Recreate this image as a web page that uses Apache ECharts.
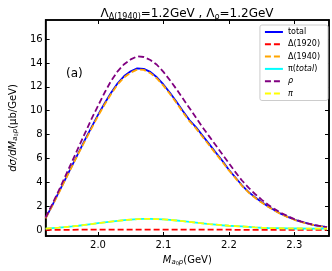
<!DOCTYPE html>
<html><head><meta charset="utf-8">
<script src="https://cdn.jsdelivr.net/npm/echarts@6/dist/echarts.min.js"></script>
<style>html,body{margin:0;padding:0;background:#fff}#c{width:332px;height:271px}</style>
</head><body><div id="c"></div>
<script>
const mass = [1.92,1.93,1.94,1.95,1.96,1.97,1.98,1.99,2.00,2.01,2.02,2.03,2.04,2.05,2.06,2.07,2.08,2.09,2.10,2.11,2.12,2.13,2.14,2.15,2.16,2.17,2.18,2.19,2.20,2.21,2.22,2.23,2.24,2.25,2.26,2.27,2.28,2.29,2.30,2.31,2.32,2.33,2.34,2.35];
const total = [1.0,2.05,3.15,4.25,5.35,6.45,7.55,8.6,9.65,10.6,11.5,12.3,12.9,13.3,13.55,13.5,13.25,12.8,12.2,11.5,10.75,9.95,9.2,8.6,7.9,7.2,6.5,5.8,5.05,4.4,3.75,3.2,2.75,2.35,1.98,1.65,1.35,1.1,0.88,0.7,0.55,0.42,0.32,0.24];
const delta1920 = [0.01,0.01,0.02,0.02,0.02,0.03,0.03,0.03,0.03,0.04,0.04,0.04,0.04,0.04,0.04,0.04,0.04,0.04,0.04,0.04,0.04,0.04,0.03,0.03,0.03,0.03,0.03,0.03,0.03,0.02,0.02,0.02,0.02,0.02,0.02,0.02,0.01,0.01,0.01,0.01,0.01,0.01,0.01,0.01];
const delta1940 = [0.98,2.0,3.1,4.2,5.3,6.4,7.45,8.5,9.55,10.5,11.4,12.2,12.8,13.2,13.45,13.42,13.15,12.7,12.1,11.4,10.65,9.85,9.1,8.5,7.8,7.1,6.4,5.72,5.0,4.35,3.7,3.15,2.7,2.3,1.95,1.62,1.33,1.08,0.86,0.68,0.53,0.41,0.31,0.23];
const piTotal = [0.12,0.16,0.2,0.25,0.3,0.36,0.43,0.5,0.57,0.64,0.71,0.77,0.83,0.87,0.91,0.93,0.93,0.92,0.89,0.85,0.8,0.74,0.68,0.62,0.56,0.5,0.45,0.4,0.36,0.33,0.3,0.26,0.22,0.19,0.17,0.16,0.15,0.14,0.13,0.13,0.12,0.12,0.11,0.11];
const rho = [1.05,2.15,3.3,4.5,5.7,6.9,8.1,9.3,10.4,11.5,12.5,13.3,13.9,14.3,14.55,14.5,14.25,13.85,13.25,12.55,11.8,11.0,10.2,9.4,8.6,7.85,7.1,6.35,5.6,4.85,4.15,3.55,3.02,2.55,2.12,1.75,1.43,1.16,0.92,0.72,0.56,0.43,0.33,0.25];
const piOnly = [0.12,0.16,0.2,0.25,0.3,0.36,0.43,0.5,0.57,0.64,0.71,0.77,0.83,0.87,0.91,0.93,0.93,0.92,0.89,0.85,0.8,0.74,0.68,0.62,0.56,0.5,0.45,0.4,0.36,0.33,0.3,0.26,0.22,0.19,0.17,0.16,0.15,0.14,0.13,0.13,0.12,0.12,0.11,0.11];
const xTicks = [2.0,2.1,2.2,2.3];
const yTicks = [0,2,4,6,8,10,12,14,16];

const FONT = 'DejaVu Sans';
const pairs = arr => mass.map((m,i)=>[m,arr[i]]);
const dash = [6,3];
const mk = (name, arr, color, type) => ({
  name, type:'line', data: pairs(arr), showSymbol:false, symbol:'circle', symbolSize:4, smooth:false,
  lineStyle:{color, width:1.8, type}, itemStyle:{color}, animation:false, z:2
});
const legendMap = {
  'total':'total', 'Δ(1920)':'Δ(1920)', 'Δ(1940)':'Δ(1940)',
  'π(total)':'π({i|total})', 'ρ':'{i|ρ}', 'π':'{i|π}'
};
const chart = echarts.init(document.getElementById('c'), null, {renderer:'canvas'});
const axisCommon = {
  type:'value', axisLine:{show:true,onZero:false,lineStyle:{color:'#000',width:1.5}},
  splitLine:{show:false}
};
const subRich = {
  i:{fontStyle:'italic',fontSize:10,fontFamily:FONT},
  s:{fontSize:7,fontStyle:'italic',fontFamily:FONT,verticalAlign:'bottom',padding:[5,0,0,0]},
  ss:{fontSize:5,fontFamily:FONT,verticalAlign:'bottom',padding:[7,0,0,0]}
};
chart.setOption({
  animation:false,
  textStyle:{fontFamily:FONT},
  title:{
    text:'Λ{s|Δ(1940)}=1.2GeV , Λ{s|ρ}=1.2GeV', left:182, textAlign:'center', top:2,
    textStyle:{fontFamily:FONT,fontSize:12,fontWeight:'normal',color:'#000',
      rich:{s:{fontSize:8,fontFamily:FONT,verticalAlign:'bottom',padding:[6,0,0,0]}}}
  },
  grid:{left:35,right:3,top:20,bottom:34,show:true,borderColor:'#000',borderWidth:1.5,containLabel:false},
  legend:{
    orient:'vertical', right:4, top:25, itemWidth:18, itemHeight:8, itemGap:4.3,
    padding:[3,8,3,4], borderColor:'#ccc', borderWidth:1, borderRadius:2, backgroundColor:'#fff',
    itemStyle:{color:'rgba(0,0,0,0)', borderColor:'rgba(0,0,0,0)', borderWidth:0},
    data:['total','Δ(1920)','Δ(1940)','π(total)','ρ','π'],
    formatter: n => legendMap[n],
    textStyle:{fontFamily:FONT,fontSize:8,color:'#000',rich:{i:{fontStyle:'italic',fontSize:8,fontFamily:FONT}}}
  },
  xAxis:[
    Object.assign({}, axisCommon, {min:1.92,max:2.353, position:'bottom',
      axisTick:{show:true,inside:true,length:4,customValues:xTicks,lineStyle:{color:'#000'}},
      axisLabel:{customValues:xTicks,color:'#000',fontSize:10,fontFamily:FONT,margin:4,formatter:v=>v.toFixed(1)},
      name:'{i|M}{s|a}{ss|0}{s|p}(GeV)', nameLocation:'middle', nameGap:18,
      nameTextStyle:{fontFamily:FONT,fontSize:10,color:'#000',rich:subRich}}),
    Object.assign({}, axisCommon, {min:1.92,max:2.353, position:'top',
      axisTick:{show:true,inside:true,length:4,customValues:xTicks,lineStyle:{color:'#000'}},
      axisLabel:{show:false}})
  ],
  yAxis:[
    Object.assign({}, axisCommon, {min:-0.5,max:17.6, position:'left',
      axisTick:{show:true,inside:true,length:4,customValues:yTicks,lineStyle:{color:'#000'}},
      axisLabel:{customValues:yTicks,color:'#000',fontSize:10,fontFamily:FONT,margin:3},
      name:'{i|dσ/dM}{s|a}{ss|0}{s|p}(μb/GeV)', nameLocation:'middle', nameGap:26, nameRotate:90,
      nameTextStyle:{fontFamily:FONT,fontSize:10,color:'#000',rich:subRich}}),
    Object.assign({}, axisCommon, {min:-0.5,max:17.6, position:'right',
      axisTick:{show:true,inside:true,length:4,customValues:yTicks,lineStyle:{color:'#000'}},
      axisLabel:{show:false}})
  ],
  graphic:[{type:'text',left:66,top:68,style:{text:'(a)',font:'12px "DejaVu Sans"',fill:'#000'}}],
  series:[
    mk('total', total, '#0000ff', 'solid'),
    mk('Δ(1920)', delta1920, '#ff0000', dash),
    mk('Δ(1940)', delta1940, '#ffa500', dash),
    mk('π(total)', piTotal, '#00ffff', 'solid'),
    mk('ρ', rho, '#800080', dash),
    mk('π', piOnly, '#ffff00', dash)
  ]
});
</script></body></html>
